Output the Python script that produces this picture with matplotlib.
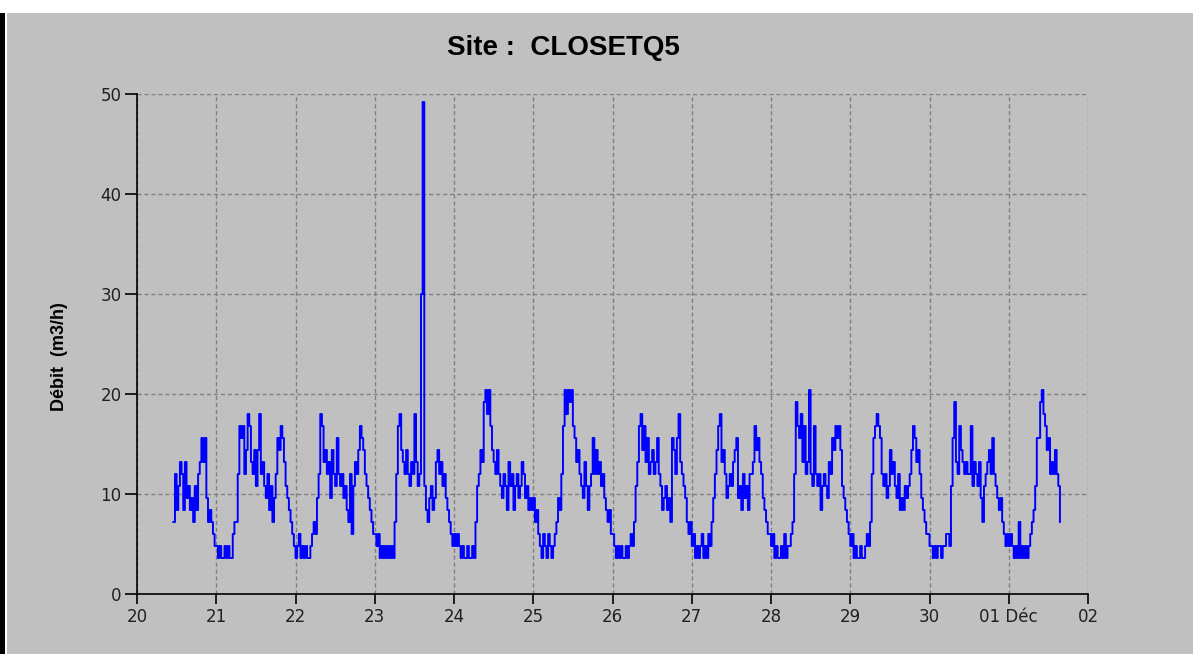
import matplotlib
matplotlib.use("Agg")
import matplotlib.pyplot as plt
from matplotlib.patches import Rectangle
import pandas as pd

# Half-hourly flow readings (m3/h), one list per day
day20 = [7.2, 12.0, 8.4, 10.8, 13.2, 12.0, 8.4, 13.2, 9.6, 10.8, 8.4, 9.6, 7.2,
         10.8, 8.4, 12.0, 13.2, 15.6, 13.2, 15.6, 9.6, 7.2, 8.4, 7.2, 6.0, 4.8]
day21 = [4.8, 3.6, 4.8, 3.6, 3.6, 4.8, 3.6, 4.8, 3.6, 3.6, 6.0, 7.2,
         7.2, 12.0, 16.8, 15.6, 16.8, 12.0, 14.4, 18.0, 16.8, 13.2, 12.0, 14.4,
         10.8, 14.4, 18.0, 12.0, 13.2, 10.8, 9.6, 12.0, 8.4, 10.8, 7.2, 9.6,
         12.0, 15.6, 14.4, 16.8, 15.6, 13.2, 10.8, 9.6, 8.4, 7.2, 6.0, 4.8]
day22 = [3.6, 4.8, 6.0, 3.6, 4.8, 3.6, 4.8, 3.6, 3.6, 4.8, 6.0, 7.2,
         6.0, 9.6, 12.0, 18.0, 16.8, 13.2, 14.4, 12.0, 13.2, 9.6, 14.4, 12.0,
         10.8, 15.6, 12.0, 10.8, 12.0, 9.6, 10.8, 8.4, 7.2, 12.0, 6.0, 10.8,
         13.2, 12.0, 14.4, 16.8, 15.6, 14.4, 12.0, 10.8, 9.6, 8.4, 7.2, 6.0]
day23 = [6.0, 4.8, 6.0, 3.6, 4.8, 3.6, 4.8, 3.6, 4.8, 3.6, 4.8, 3.6,
         7.2, 12.0, 16.8, 18.0, 14.4, 13.2, 12.0, 14.4, 12.0, 10.8, 13.2, 12.0,
         18.0, 13.2, 10.8, 12.0, 30.0, 49.2, 10.8, 8.4, 7.2, 9.6, 10.8, 8.4,
         9.6, 13.2, 14.4, 12.0, 13.2, 10.8, 12.0, 9.6, 8.4, 7.2, 6.0, 4.8]
day24 = [6.0, 4.8, 6.0, 4.8, 3.6, 4.8, 3.6, 3.6, 4.8, 3.6, 3.6, 4.8,
         3.6, 7.2, 10.8, 12.0, 14.4, 13.2, 19.2, 20.4, 18.0, 20.4, 16.8, 14.4,
         13.2, 12.0, 14.4, 12.0, 10.8, 9.6, 12.0, 10.8, 8.4, 13.2, 10.8, 12.0,
         8.4, 10.8, 12.0, 9.6, 10.8, 13.2, 12.0, 9.6, 10.8, 8.4, 9.6, 8.4]
day25 = [9.6, 7.2, 8.4, 6.0, 4.8, 3.6, 6.0, 4.8, 3.6, 6.0, 4.8, 3.6,
         4.8, 6.0, 7.2, 9.6, 8.4, 12.0, 16.8, 20.4, 18.0, 20.4, 19.2, 20.4,
         16.8, 15.6, 13.2, 14.4, 12.0, 10.8, 9.6, 13.2, 10.8, 8.4, 10.8, 12.0,
         15.6, 12.0, 14.4, 12.0, 13.2, 10.8, 12.0, 9.6, 8.4, 7.2, 8.4, 6.0]
day26 = [6.0, 4.8, 3.6, 4.8, 3.6, 4.8, 3.6, 3.6, 4.8, 3.6, 4.8, 6.0,
         4.8, 7.2, 10.8, 13.2, 16.8, 18.0, 14.4, 16.8, 13.2, 15.6, 12.0, 13.2,
         14.4, 12.0, 13.2, 15.6, 12.0, 10.8, 8.4, 9.6, 10.8, 8.4, 9.6, 7.2,
         15.6, 14.4, 12.0, 15.6, 18.0, 13.2, 12.0, 10.8, 9.6, 7.2, 6.0, 7.2]
day27 = [4.8, 6.0, 3.6, 4.8, 3.6, 4.8, 6.0, 3.6, 4.8, 3.6, 6.0, 4.8,
         7.2, 9.6, 12.0, 14.4, 16.8, 18.0, 13.2, 14.4, 12.0, 9.6, 10.8, 12.0,
         10.8, 13.2, 14.4, 15.6, 9.6, 10.8, 8.4, 12.0, 9.6, 10.8, 8.4, 12.0,
         12.0, 13.2, 16.8, 14.4, 15.6, 13.2, 12.0, 9.6, 8.4, 7.2, 6.0, 6.0]
day28 = [4.8, 6.0, 3.6, 4.8, 3.6, 3.6, 4.8, 3.6, 6.0, 3.6, 4.8, 4.8,
         6.0, 7.2, 12.0, 19.2, 16.8, 15.6, 18.0, 13.2, 16.8, 12.0, 13.2, 20.4,
         12.0, 10.8, 16.8, 12.0, 10.8, 12.0, 8.4, 10.8, 12.0, 10.8, 9.6, 13.2,
         12.0, 15.6, 14.4, 16.8, 15.6, 16.8, 14.4, 10.8, 9.6, 8.4, 7.2, 6.0]
day29 = [4.8, 6.0, 3.6, 4.8, 3.6, 3.6, 4.8, 3.6, 3.6, 4.8, 6.0, 4.8,
         7.2, 12.0, 15.6, 16.8, 18.0, 16.8, 15.6, 12.0, 10.8, 12.0, 9.6, 10.8,
         14.4, 12.0, 13.2, 10.8, 9.6, 12.0, 8.4, 9.6, 8.4, 10.8, 9.6, 10.8,
         12.0, 14.4, 16.8, 15.6, 13.2, 14.4, 12.0, 9.6, 8.4, 7.2, 6.0, 6.0]
day30 = [4.8, 4.8, 3.6, 4.8, 3.6, 4.8, 4.8, 3.6, 4.8, 4.8, 6.0, 6.0,
         4.8, 10.8, 15.6, 19.2, 13.2, 12.0, 16.8, 14.4, 13.2, 12.0, 13.2, 12.0,
         12.0, 16.8, 10.8, 13.2, 12.0, 10.8, 13.2, 9.6, 7.2, 10.8, 12.0, 13.2,
         14.4, 12.0, 15.6, 12.0, 10.8, 9.6, 8.4, 9.6, 7.2, 6.0, 4.8, 6.0]
day01 = [4.8, 6.0, 4.8, 3.6, 4.8, 3.6, 7.2, 3.6, 4.8, 3.6, 4.8, 3.6,
         4.8, 6.0, 7.2, 8.4, 10.8, 15.6, 15.6, 19.2, 20.4, 18.0, 16.8, 14.4,
         15.6, 12.0, 13.2, 12.0, 14.4, 12.0, 10.8, 7.2]

flow = day20 + day21 + day22 + day23 + day24 + day25 + day26 + day27 + day28 + day29 + day30 + day01
times = pd.date_range("2008-11-20 11:00", periods=len(flow), freq="30min")

x_ticks = pd.date_range("2008-11-20", "2008-12-02", freq="D")
x_labels = ["20", "21", "22", "23", "24", "25", "26", "27", "28", "29", "30", "01 Déc", "02"]
y_ticks = [0, 10, 20, 30, 40, 50]

bg = "#c0c0c0"
fig = plt.figure(figsize=(11.93, 6.54), dpi=100, facecolor=bg)

# window frame: white strip on top, black edge on the left
fig.patches.append(Rectangle((0, 1 - 13 / 654), 1, 13 / 654, transform=fig.transFigure,
                             facecolor="white", edgecolor="none", zorder=0))
fig.patches.append(Rectangle((0, 0), 5 / 1193, 1 - 13 / 654, transform=fig.transFigure,
                             facecolor="black", edgecolor="none", zorder=0))
fig.patches.append(Rectangle((5 / 1193, 0), 2 / 1193, 1 - 13 / 654, transform=fig.transFigure,
                             facecolor="white", edgecolor="none", zorder=0))

ax = fig.add_axes([137 / 1193, 60 / 654, 951 / 1193, 500 / 654])
ax.set_facecolor(bg)

ax.step(times, flow, where="post", color="blue", lw=1.4, zorder=3)

ax.set_xlim(x_ticks[0], x_ticks[-1])
ax.set_ylim(0, 50)
ax.set_xticks(x_ticks)
ax.set_xticklabels(x_labels)
ax.set_yticks(y_ticks)

ax.grid(True, color="#808080", linestyle=(0, (3, 2)), linewidth=1.0)
ax.set_axisbelow(True)

for side in ["top", "right"]:
    ax.spines[side].set_visible(False)
for side in ["left", "bottom"]:
    ax.spines[side].set_color("black")
    ax.spines[side].set_linewidth(1.2)

ax.tick_params(axis="y", length=9, width=1.2, pad=2, labelsize=12)
ax.tick_params(axis="x", length=7, width=1.2, pad=3, labelsize=12)
ax.tick_params(colors="black", which="both", labelcolor="#202020")

fig.text(563 / 1193, 1 - 48 / 654, "Site :  CLOSETQ5", ha="center", va="center",
         fontsize=20, fontweight="bold", family="Liberation Sans")
fig.text(60 / 1193, 1 - 357 / 654, "Débit  (m3/h)", ha="center", va="center",
         rotation=90, fontsize=13, fontweight="bold", family="Liberation Sans")

fig.savefig("out.png", dpi=100, facecolor=bg)
